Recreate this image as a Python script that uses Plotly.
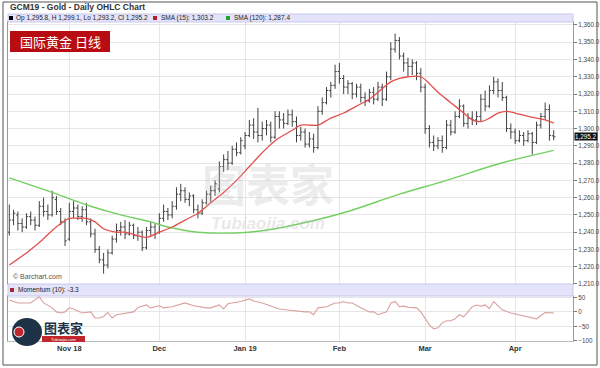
import plotly.graph_objects as go
import pandas as pd

# ---- trading days (GCM19, Oct 12 2018 - Apr 12 2019) ----
holidays = ["2018-11-22", "2018-12-25", "2019-01-01"]
dates = [d for d in pd.bdate_range("2018-10-12", "2019-04-12")
         if d.strftime("%Y-%m-%d") not in holidays]
bars = list(range(len(dates)))

month_labels = ["Nov 18", "Dec", "Jan 19", "Feb", "Mar", "Apr"]
month_idx = [i for i in bars[1:] if dates[i].month != dates[i - 1].month]

# ---- OHLC values ----
opens = [1240, 1247, 1250, 1245, 1243, 1249, 1247, 1244, 1255, 1252, 1250, 1259, 1252, 1246,
         1236, 1252, 1254, 1249, 1253, 1246, 1239, 1230, 1224, 1221, 1228, 1236, 1241, 1243, 1239, 1244, 1238, 1240, 1231, 1241, 1243,
         1240, 1248, 1252, 1250, 1255, 1262, 1264, 1259, 1261, 1253, 1251, 1257, 1262, 1264, 1265, 1278, 1282, 1280, 1288, 1286,
         1290, 1296, 1302, 1298, 1296, 1300, 1302, 1295, 1307, 1305, 1303, 1308, 1304, 1296, 1298, 1291, 1294, 1289, 1310, 1315, 1322, 1325,
         1333, 1329, 1324, 1326, 1320, 1324, 1318, 1316, 1321, 1317, 1324, 1317, 1330, 1346, 1351, 1342, 1338, 1336, 1338, 1332,
         1324, 1300, 1292, 1290, 1293, 1289, 1302, 1298, 1307, 1313, 1303, 1306, 1305, 1307, 1317, 1313, 1322, 1327, 1322, 1318, 1300,
         1298, 1293, 1296, 1293, 1297, 1292, 1302, 1307, 1311, 1295.8]
highs = [1256, 1253, 1252, 1248, 1251, 1252, 1249, 1258, 1260, 1256, 1264, 1261, 1254, 1248,
         1257, 1258, 1256, 1255, 1257, 1248, 1242, 1232, 1228, 1230, 1238, 1245, 1246, 1247, 1246, 1245, 1243, 1241, 1243, 1246, 1245,
         1251, 1256, 1254, 1258, 1266, 1268, 1266, 1263, 1262, 1256, 1259, 1264, 1267, 1270, 1281, 1285, 1287, 1290, 1292, 1295,
         1298, 1305, 1306, 1312, 1304, 1305, 1304, 1310, 1310, 1309, 1311, 1311, 1307, 1301, 1300, 1298, 1297, 1313, 1318, 1324, 1327, 1337,
         1338, 1331, 1328, 1327, 1326, 1326, 1321, 1323, 1324, 1327, 1326, 1333, 1350, 1355, 1353, 1344, 1341, 1340, 1339, 1335,
         1326, 1302, 1296, 1295, 1296, 1305, 1305, 1310, 1317, 1314, 1309, 1310, 1310, 1320, 1322, 1325, 1330, 1329, 1327, 1319, 1303,
         1300, 1299, 1298, 1299, 1298, 1304, 1309, 1315, 1314, 1299.1]
lows = [1238, 1244, 1241, 1240, 1242, 1244, 1241, 1243, 1249, 1247, 1249, 1250, 1244, 1232,
        1235, 1248, 1247, 1246, 1244, 1237, 1228, 1222, 1216, 1219, 1227, 1234, 1238, 1236, 1238, 1236, 1235, 1229, 1230, 1238, 1236,
        1239, 1246, 1247, 1248, 1253, 1258, 1257, 1255, 1251, 1248, 1250, 1256, 1257, 1261, 1263, 1275, 1276, 1279, 1284, 1285,
        1288, 1295, 1294, 1292, 1293, 1296, 1292, 1294, 1300, 1300, 1302, 1301, 1292, 1293, 1289, 1289, 1286, 1288, 1308, 1314, 1318, 1323,
        1326, 1320, 1320, 1317, 1318, 1315, 1313, 1315, 1314, 1316, 1313, 1316, 1328, 1344, 1340, 1333, 1330, 1331, 1328, 1321,
        1297, 1289, 1287, 1288, 1286, 1288, 1296, 1297, 1306, 1301, 1300, 1302, 1302, 1304, 1310, 1312, 1320, 1318, 1316, 1298, 1294,
        1291, 1292, 1290, 1292, 1285, 1291, 1300, 1305, 1293, 1293.2]
closes = [1247, 1251, 1245, 1243, 1249, 1247, 1244, 1255, 1252, 1250, 1260, 1252, 1246, 1235,
          1252, 1254, 1249, 1253, 1246, 1239, 1230, 1224, 1221, 1228, 1236, 1241, 1243, 1239, 1244, 1238, 1240, 1231, 1241, 1243, 1239,
          1248, 1252, 1250, 1255, 1262, 1264, 1259, 1261, 1253, 1251, 1257, 1262, 1264, 1268, 1278, 1282, 1280, 1288, 1286, 1293,
          1296, 1302, 1298, 1296, 1300, 1302, 1295, 1307, 1305, 1303, 1308, 1304, 1296, 1298, 1291, 1294, 1289, 1310, 1315, 1322, 1325, 1333,
          1329, 1324, 1326, 1320, 1324, 1318, 1316, 1321, 1317, 1324, 1317, 1330, 1346, 1351, 1342, 1338, 1336, 1338, 1332, 1324,
          1300, 1292, 1290, 1293, 1289, 1302, 1298, 1307, 1313, 1303, 1306, 1305, 1307, 1317, 1313, 1322, 1327, 1322, 1318, 1300, 1298,
          1293, 1296, 1293, 1297, 1292, 1302, 1307, 1311, 1296, 1295.2]

# ---- indicator values (bar number, value) ----
sma15_bar = [0, 4, 7, 10, 12, 14, 16, 18, 20, 22, 25, 27, 30, 32, 35, 38, 41, 44, 47, 50, 53, 56,
             59, 62, 66, 68, 70, 72, 75, 78, 81, 84, 86, 89, 91, 93, 96, 98, 100, 103, 106, 108,
             110, 112, 114, 116, 118, 121, 123, 125, 127]
sma15_val = [1221, 1228, 1234, 1241, 1245, 1248, 1248, 1248, 1246, 1242, 1240, 1240, 1238, 1237,
             1240, 1243, 1247, 1251, 1257, 1263, 1270, 1278, 1286, 1293, 1299, 1302, 1302, 1302,
             1306, 1309, 1313, 1317, 1321, 1327, 1329, 1330, 1330, 1326, 1321, 1315, 1309, 1305,
             1304, 1306, 1309, 1310, 1309, 1307, 1306, 1305, 1303.2]

sma120_bar = [0, 10, 19, 26, 33, 37, 44, 56, 62, 68, 79, 91, 102, 114, 127]
sma120_val = [1271.4, 1263, 1255, 1250, 1246, 1243, 1240, 1240, 1242, 1245, 1252, 1262, 1270,
              1279.5, 1287.4]

mom_bar = [0, 2, 5, 7, 8, 10, 11, 12, 13, 14, 15, 17, 19, 20, 21, 22, 23, 24, 25, 27, 29, 30, 32,
           33, 35, 36, 38, 41, 43, 46, 47, 49, 50, 51, 54, 56, 57, 59, 61, 63, 66, 68, 69, 70, 71,
           72, 74, 76, 77, 78, 79, 80, 82, 84, 85, 86, 88, 89, 90, 91, 92, 93, 95, 96, 97, 98, 99,
           100, 101, 102, 103, 104, 105, 106, 107, 108, 109, 110, 111, 112, 113, 114, 115, 117,
           119, 120, 122, 123, 125, 127]
mom_val = [41, 31, 31, 53, 31, 14, 0, -4, 0, 14, 10, -4, 0, -21, -21, -16, -2, -21, -10, -4, 0,
           15, 24, 14, 21, 14, 18, 31, 21, 14, 14, 24, 10, 28, 36, 45, 38, 31, 21, 10, 5, 0, 0, 0,
           -10, 14, 18, 31, 31, 36, 31, 31, 14, 0, 0, -10, 0, 31, 36, 18, 20, 16, 14, 0, -21, -45,
           -59, -55, -38, -31, -31, -24, -10, -17, 0, 18, 24, 20, 24, 12, 36, 20, 7, -4, -10, -14,
           -21, -24, -2, -3.3]

# ---- figure ----
FONT = "Liberation Sans"
bar_col = "#404040"
fig = go.Figure()
fig.add_trace(go.Ohlc(
    x=bars, open=opens, high=highs, low=lows, close=closes,
    increasing=dict(line=dict(color=bar_col, width=1)),
    decreasing=dict(line=dict(color=bar_col, width=1)),
    tickwidth=0.4, xaxis="x", yaxis="y", hoverinfo="skip", showlegend=False))
fig.add_trace(go.Scatter(x=sma120_bar, y=sma120_val, mode="lines",
                         line=dict(color="#74cf63", width=1.4, shape="spline", smoothing=1.0),
                         xaxis="x", yaxis="y", showlegend=False, hoverinfo="skip"))
fig.add_trace(go.Scatter(x=sma15_bar, y=sma15_val, mode="lines",
                         line=dict(color="#e2504c", width=1.3, shape="spline", smoothing=0.9),
                         xaxis="x", yaxis="y", showlegend=False, hoverinfo="skip"))
fig.add_trace(go.Scatter(x=mom_bar, y=mom_val, mode="lines",
                         line=dict(color="#d8a19d", width=1.1),
                         xaxis="x2", yaxis="y2", showlegend=False, hoverinfo="skip"))

grid = "#e6e6e6"
axis_font = dict(family=FONT, size=6.3, color="#444")
fig.update_layout(
    width=600, height=368,
    paper_bgcolor="white", plot_bgcolor="white",
    margin=dict(l=8, r=27, t=22, b=27),
    xaxis=dict(domain=[0, 1], anchor="y", range=[-0.3, 131.5], tickvals=month_idx,
               showticklabels=False, showgrid=True, gridcolor=grid, zeroline=False,
               rangeslider=dict(visible=False), showline=True, linecolor="#bbbbbb",
               mirror=True, automargin=False),
    xaxis2=dict(domain=[0, 1], anchor="y2", matches="x", tickvals=month_idx,
                ticktext=month_labels, showgrid=True, gridcolor=grid, zeroline=False,
                tickfont=dict(family=FONT, size=7.5, color="#333", weight="bold"),
                showline=True, linecolor="#bbbbbb", mirror=True, automargin=False,
                ticks=""),
    yaxis=dict(domain=[0.1787, 1], anchor="x", side="right", range=[1210, 1361.7],
               dtick=10, tick0=1210, tickformat=",.1f", ticks="outside", ticklen=3,
               tickcolor="#777", tickfont=axis_font, showgrid=True, gridcolor=grid,
               zeroline=False, showline=True, linecolor="#999", mirror=True,
               automargin=False),
    yaxis2=dict(domain=[0, 0.141], anchor="x2", side="right", range=[-101, 55],
                tickvals=[-100, -50, 0, 50], ticks="outside", ticklen=3, tickcolor="#777",
                tickfont=axis_font, showgrid=True, gridcolor=grid, zeroline=False,
                showline=True, linecolor="#999", mirror=True, automargin=False),
)


def px(X):
    return (X - 8) / 565.0


def py(Y):
    return (341 - Y) / 319.0


shapes = [
    # outer frame
    dict(type="rect", xref="paper", yref="paper", x0=px(3), x1=px(597), y0=py(365), y1=py(2),
         line=dict(color="#555", width=1), fillcolor="rgba(0,0,0,0)"),
    # legend bars
    dict(type="rect", xref="paper", yref="paper", x0=0, x1=1, y0=py(22), y1=py(14),
         line=dict(color="#c9c9ee", width=1), fillcolor="#e3e3fa"),
    dict(type="rect", xref="paper", yref="paper", x0=0, x1=1, y0=py(296), y1=py(284),
         line=dict(color="#c9c9ee", width=1), fillcolor="#e3e3fa"),
    # legend squares
    dict(type="rect", xref="paper", yref="paper", x0=px(9), x1=px(13), y0=py(20), y1=py(16),
         line=dict(width=0), fillcolor="#000"),
    dict(type="rect", xref="paper", yref="paper", x0=px(153), x1=px(157), y0=py(20), y1=py(16),
         line=dict(width=0), fillcolor="#b0202a"),
    dict(type="rect", xref="paper", yref="paper", x0=px(226), x1=px(230), y0=py(20), y1=py(16),
         line=dict(width=0), fillcolor="#2e9e3a"),
    dict(type="rect", xref="paper", yref="paper", x0=px(10), x1=px(14), y0=py(292), y1=py(288),
         line=dict(width=0), fillcolor="#a0282e"),
    # red label box
    dict(type="rect", xref="paper", yref="paper", x0=px(10), x1=px(110), y0=py(52), y1=py(31),
         line=dict(width=0), fillcolor="#b70d12"),
    # logo (bottom-left)
    dict(type="circle", xref="paper", yref="paper", x0=px(12), x1=px(42), y0=py(346), y1=py(318),
         line=dict(width=0), fillcolor="#1d3247"),
    dict(type="circle", xref="paper", yref="paper", x0=px(14), x1=px(24), y0=py(337), y1=py(327),
         line=dict(color="#ffffff", width=1), fillcolor="#c0272d"),
    dict(type="rect", xref="paper", yref="paper", x0=px(42), x1=px(85), y0=py(342), y1=py(336),
         line=dict(width=0), fillcolor="#c0272d"),
]
fig.update_layout(shapes=shapes)

small = dict(family=FONT, size=6.5, color="#222")
ann = [
    dict(x=px(8), y=py(7), text="<b>GCM19 - Gold - Daily OHLC Chart</b>",
         font=dict(family=FONT, size=8.5, color="#333")),
    dict(x=px(14), y=py(18), text="Op 1,295.8, H 1,299.1, Lo 1,293.2, Cl 1,295.2", font=small),
    dict(x=px(159), y=py(18), text="SMA (15): 1,303.2", font=small),
    dict(x=px(232), y=py(18), text="SMA (120): 1,287.4", font=small),
    dict(x=px(16), y=py(290), text="Momentum (10): -3.3", font=small),
    dict(x=px(11), y=py(276), text="© Barchart.com", font=dict(family=FONT, size=7, color="#555")),
    dict(x=px(60), y=py(41.5), text="国际黄金 日线", xanchor="center",
         font=dict(family="Noto Sans CJK SC", size=13, color="white")),
    # watermark
    dict(x=px(268), y=py(183), text="<b>图表家</b>", xanchor="center",
         font=dict(family="Noto Sans CJK SC", size=44, color="rgba(190,190,190,0.3)")),
    dict(x=px(268), y=py(223), text="<b><i>Tubiaojia.com</i></b>", xanchor="center",
         font=dict(family=FONT, size=17, color="rgba(190,190,190,0.35)")),
    # logo text
    dict(x=px(63), y=py(327), text="<b>图表家</b>", xanchor="center",
         font=dict(family="Noto Sans CJK SC", size=13, color="#1d3247")),
    dict(x=px(63.5), y=py(339.5), text="Tubiaojia.com", xanchor="center",
         font=dict(family=FONT, size=4, color="white")),
    # last price box
    dict(x=1.0, y=1295.2, yref="y", xanchor="left", xshift=1, text="1,295.2",
         font=dict(family=FONT, size=6.3, color="white"), bgcolor="#111",
         borderpad=0),
]
for a in ann:
    a.setdefault("xref", "paper")
    a.setdefault("yref", "paper")
    a.setdefault("xanchor", "left")
    a.setdefault("yanchor", "middle")
    a["showarrow"] = False
fig.update_layout(annotations=ann)

fig.write_html("out.html", config={"displayModeBar": False},
               post_script="document.body.style.margin='0';document.body.style.padding='0';"
                           "document.body.style.overflow='hidden';")
